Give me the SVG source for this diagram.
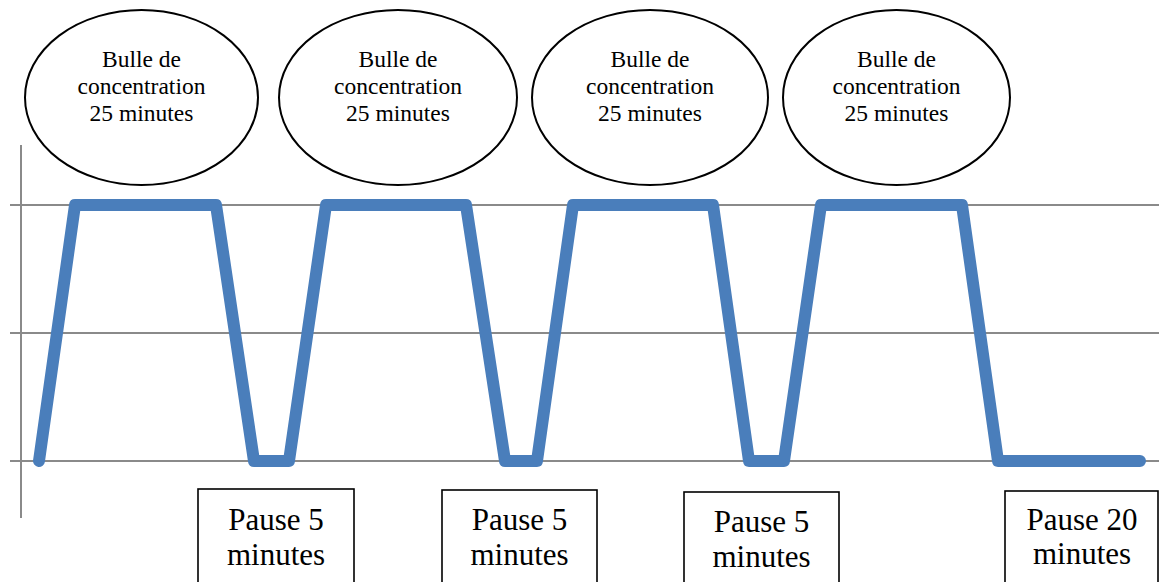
<svg xmlns="http://www.w3.org/2000/svg" width="1159" height="582" viewBox="0 0 1159 582">
  <style>
    .grid { stroke: #8a8a8a; stroke-width: 2; fill: none; }
    .curve { stroke: #4a7ebb; stroke-width: 12; fill: none; stroke-linejoin: round; stroke-linecap: round; }
    .bubble { fill: #ffffff; stroke: #000000; stroke-width: 2; }
    .box { fill: #ffffff; stroke: #000000; stroke-width: 1.6; }
    .btxt { font-family: "Liberation Serif", "Times New Roman", serif; font-size: 23.5px; fill: #000; text-anchor: middle; }
    .ptxt { font-family: "Liberation Serif", "Times New Roman", serif; font-size: 31px; fill: #000; text-anchor: middle; }
  </style>
  <rect width="1159" height="582" fill="#ffffff"/>

  <!-- chart axes and gridlines -->
  <g id="axes">
    <line class="grid" x1="21" y1="145" x2="21" y2="518"/>
    <line class="grid" x1="10" y1="205" x2="1159" y2="205"/>
    <line class="grid" x1="10" y1="333" x2="1159" y2="333"/>
    <line class="grid" x1="10" y1="461" x2="1159" y2="461"/>
  </g>

  <!-- focus level over time -->
  <g id="connectors">
    <polyline class="curve" points="39,461 75,205 216,205 254,461 289,461 326,205 466,205 505,461 537,461 573,205 713,205 749,461 784,461 821,205 962,205 998,461 1140,461"/>
  </g>

  <!-- concentration bubbles -->
  <g id="bulle1">
    <ellipse class="bubble" cx="141.5" cy="97.5" rx="116.5" ry="87.5"/>
    <text class="btxt" x="141.5" y="67">Bulle de</text>
    <text class="btxt" x="141.5" y="94">concentration</text>
    <text class="btxt" x="141.5" y="121">25 minutes</text>
  </g>
  <g id="bulle2">
    <ellipse class="bubble" cx="398" cy="97.5" rx="119" ry="87.5"/>
    <text class="btxt" x="398" y="67">Bulle de</text>
    <text class="btxt" x="398" y="94">concentration</text>
    <text class="btxt" x="398" y="121">25 minutes</text>
  </g>
  <g id="bulle3">
    <ellipse class="bubble" cx="650" cy="97.5" rx="118" ry="87.5"/>
    <text class="btxt" x="650" y="67">Bulle de</text>
    <text class="btxt" x="650" y="94">concentration</text>
    <text class="btxt" x="650" y="121">25 minutes</text>
  </g>
  <g id="bulle4">
    <ellipse class="bubble" cx="896.5" cy="97.5" rx="113.5" ry="87.5"/>
    <text class="btxt" x="896.5" y="67">Bulle de</text>
    <text class="btxt" x="896.5" y="94">concentration</text>
    <text class="btxt" x="896.5" y="121">25 minutes</text>
  </g>

  <!-- break labels -->
  <g id="pause1">
    <rect class="box" x="198" y="489" width="156" height="100"/>
    <text class="ptxt" x="276" y="530">Pause 5</text>
    <text class="ptxt" x="276" y="565">minutes</text>
  </g>
  <g id="pause2">
    <rect class="box" x="442" y="490" width="155" height="100"/>
    <text class="ptxt" x="519.5" y="530">Pause 5</text>
    <text class="ptxt" x="519.5" y="565">minutes</text>
  </g>
  <g id="pause3">
    <rect class="box" x="684" y="492" width="155" height="100"/>
    <text class="ptxt" x="761.5" y="532">Pause 5</text>
    <text class="ptxt" x="761.5" y="567">minutes</text>
  </g>
  <g id="pause4">
    <rect class="box" x="1005" y="491" width="153" height="100"/>
    <text class="ptxt" x="1082" y="530">Pause 20</text>
    <text class="ptxt" x="1082" y="564">minutes</text>
  </g>
</svg>
